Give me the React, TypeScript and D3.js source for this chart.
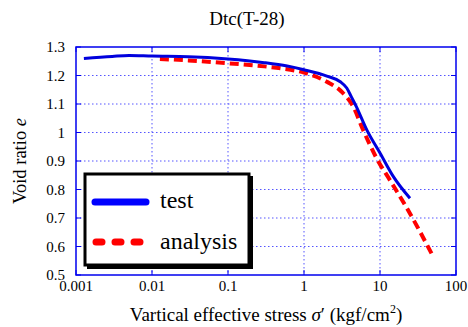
import React from "react";
import * as d3 from "d3";

// test curve (measured)
const testStress = [0.00127, 0.003, 0.005, 0.01, 0.03, 0.1, 0.3, 0.6, 1, 2, 3, 3.65, 4.2, 4.9, 6.7, 10, 15, 24.8];
const testVoid = [1.26, 1.267, 1.27, 1.268, 1.266, 1.258, 1.245, 1.233, 1.22, 1.198, 1.178, 1.156, 1.125, 1.09, 1.009, 0.928, 0.845, 0.769];

// analysis curve
const anaStress = [0.0127, 0.03, 0.1, 0.3, 0.5, 1, 2, 3.13, 4.46, 6.0, 9.0, 13.5, 22, 47.6];
const anaVoid = [1.258, 1.253, 1.243, 1.232, 1.225, 1.21, 1.178, 1.143, 1.09, 1.009, 0.91, 0.833, 0.74, 0.576];

const xTicks = [0.001, 0.01, 0.1, 1, 10, 100];
const xTickLabels = ["0.001", "0.01", "0.1", "1", "10", "100"];
const yTicks = [0.5, 0.6, 0.7, 0.8, 0.9, 1, 1.1, 1.2, 1.3];

export default function App() {
  const width = 468;
  const height = 327;
  const left = 76, right = 456, top = 47, bottom = 275;

  const x = d3.scaleLog().domain([0.001, 100]).range([left, right]);
  const y = d3.scaleLinear().domain([0.5, 1.3]).range([bottom, top]);

  const line = d3
    .line<[number, number]>()
    .x((d) => x(d[0]))
    .y((d) => y(d[1]))
    .curve(d3.curveMonotoneX);

  const testPts = testStress.map((s, i) => [s, testVoid[i]] as [number, number]);
  const anaPts = anaStress.map((s, i) => [s, anaVoid[i]] as [number, number]);

  const font = "'Liberation Serif', 'Times New Roman', serif";
  const blue = "#0000ee";

  return (
    <svg width={width} height={height} style={{ position: "absolute", left: 0, top: 0, fontFamily: font }}>
      <rect width={width} height={height} fill="#fff" />
      <text x={247} y={25} fontSize={19} textAnchor="middle">Dtc(T-28)</text>

      {/* grid */}
      {xTicks.slice(1, -1).map((t) => (
        <line key={"gx" + t} x1={x(t)} x2={x(t)} y1={top} y2={bottom} stroke="#5555ff" strokeWidth={1} strokeDasharray="1.5,2.5" />
      ))}
      {yTicks.slice(1, -1).map((t) => (
        <line key={"gy" + t} x1={left} x2={right} y1={y(t)} y2={y(t)} stroke="#5555ff" strokeWidth={1} strokeDasharray="1.5,2.5" />
      ))}

      {/* ticks */}
      {xTicks.map((t) => (
        <g key={"tx" + t}>
          <line x1={x(t)} x2={x(t)} y1={bottom} y2={bottom - 5} stroke={blue} />
          <line x1={x(t)} x2={x(t)} y1={top} y2={top + 5} stroke={blue} />
        </g>
      ))}
      {yTicks.map((t) => (
        <g key={"ty" + t}>
          <line x1={left} x2={left + 5} y1={y(t)} y2={y(t)} stroke={blue} />
          <line x1={right} x2={right - 5} y1={y(t)} y2={y(t)} stroke={blue} />
        </g>
      ))}

      {/* curves */}
      <path d={line(anaPts) ?? ""} fill="none" stroke="#ff0000" strokeWidth={4} strokeDasharray="9,5" />
      <path d={line(testPts) ?? ""} fill="none" stroke="#0000dd" strokeWidth={3} />

      {/* frame */}
      <rect x={left} y={top} width={right - left} height={bottom - top} fill="none" stroke={blue} strokeWidth={1.5} />

      {/* tick labels */}
      {xTicks.map((t, i) => (
        <text key={"lx" + t} x={x(t)} y={bottom + 16} fontSize={15} textAnchor="middle">{xTickLabels[i]}</text>
      ))}
      {yTicks.map((t) => (
        <text key={"ly" + t} x={left - 11} y={y(t) + 5} fontSize={15} textAnchor="end">{String(t)}</text>
      ))}

      {/* axis titles */}
      <text x={266} y={321} fontSize={19} textAnchor="middle">
        Vartical effective stress <tspan fontStyle="italic">σ</tspan>′ (kgf/cm<tspan fontSize={12} dy={-8}>2</tspan><tspan dy={8}>)</tspan>
      </text>
      <text transform={`translate(26,${(top + bottom) / 2}) rotate(-90)`} fontSize={18.5} textAnchor="middle">
        Void ratio <tspan fontStyle="italic">e</tspan>
      </text>

      {/* legend */}
      <rect x={87} y={176} width={166} height={93} fill="#000" />
      <rect x={85} y={174} width={164} height={91} fill="#fff" stroke="#000" strokeWidth={3} />
      <line x1={95} x2={146} y1={202} y2={202} stroke="#0000ff" strokeWidth={7} strokeLinecap="round" />
      <text x={160} y={208} fontSize={24}>test</text>
      <line x1={96} x2={146} y1={242} y2={242} stroke="#ff0000" strokeWidth={7} strokeLinecap="round" strokeDasharray="6,13" />
      <text x={160} y={249} fontSize={24}>analysis</text>
    </svg>
  );
}
